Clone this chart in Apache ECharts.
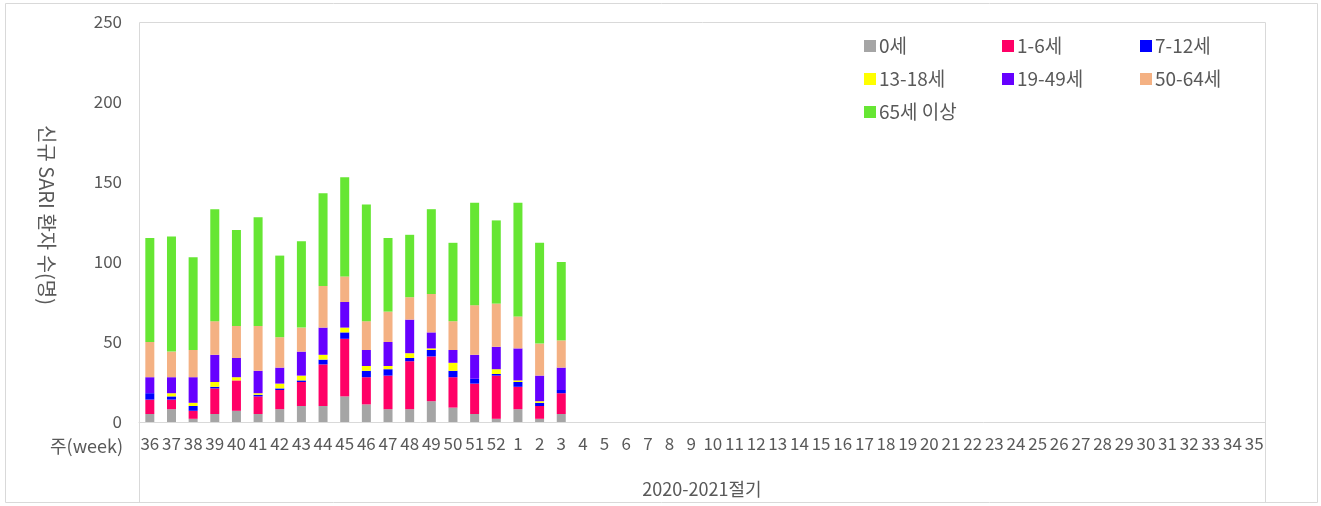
<!DOCTYPE html>
<html>
<head>
<meta charset="utf-8">
<script src="https://cdn.jsdelivr.net/npm/echarts@6/dist/echarts.min.js"></script>
<style>
html,body{margin:0;padding:0;background:#fff;}
#c{width:1321px;height:506px;}
</style>
</head>
<body>
<div id="c"></div>
<script>
const weeks = ['36','37','38','39','40','41','42','43','44','45','46','47','48','49','50','51','52',
  '1','2','3','4','5','6','7','8','9','10','11','12','13','14','15','16','17','18','19','20',
  '21','22','23','24','25','26','27','28','29','30','31','32','33','34','35'];
const seriesNames = ['0세','1-6세','7-12세','13-18세','19-49세','50-64세','65세 이상'];
const age0    = [5,8,2,5,7,5,8,10,10,16,11,8,8,13,9,5,2,8,2,5];
const age1_6  = [9,6,5,16,19,11,12,15,26,36,17,21,30,28,19,19,27,14,8,13];
const age7_12 = [4,2,3,1,0,1,1,1,3,4,4,4,2,4,4,3,1,3,2,2];
const age13_18= [0,2,2,3,2,1,3,3,3,3,3,2,3,1,5,0,3,1,1,0];
const age19_49= [10,10,16,17,12,14,10,15,17,16,10,15,21,10,8,15,14,20,16,14];
const age50_64= [22,16,17,21,20,28,19,15,26,16,18,19,14,24,18,31,27,20,20,17];
const age65   = [65,72,58,70,60,68,51,54,58,62,73,46,39,53,49,64,52,71,63,49];
const yTicks = [0,50,100,150,200,250];

const colors = ['#A5A5A5','#FF0066','#0000FF','#FFFF00','#6600FF','#F4B183','#66E633'];
const values = [age0,age1_6,age7_12,age13_18,age19_49,age50_64,age65];
const FONT = '"Noto Sans CJK KR","Noto Sans",sans-serif';
const TXT = '#595959';
const LINE = '#D9D9D9';

const chart = echarts.init(document.getElementById('c'), null, {renderer:'canvas'});

function legendCol(left, names){
  return {
    orient:'vertical', left:left, top:30, itemWidth:12, itemHeight:12, itemGap:11,
    icon:'rect', data:names,
    textStyle:{fontFamily:FONT, fontSize:19, color:TXT, lineHeight:22, padding:[0,0,0,-2]}
  };
}

chart.setOption({
  animation:false,
  color:colors,
  grid:{left:139, right:56, top:22, bottom:84, containLabel:false},
  legend:[
    legendCol(859,[seriesNames[0],seriesNames[3],seriesNames[6]]),
    legendCol(997,[seriesNames[1],seriesNames[4]]),
    legendCol(1135,[seriesNames[2],seriesNames[5]])
  ],
  xAxis:{
    type:'category', data:weeks,
    axisLine:{lineStyle:{color:LINE,width:1}},
    axisTick:{show:false},
    axisLabel:{interval:0, margin:13, fontFamily:FONT, fontSize:17, color:TXT},
    name:'2020-2021절기', nameLocation:'middle', nameGap:58,
    nameTextStyle:{fontFamily:FONT, fontSize:18, color:TXT}
  },
  yAxis:{
    type:'value', min:yTicks[0], max:yTicks[yTicks.length-1], interval:50,
    axisLine:{show:false}, axisTick:{show:false}, splitLine:{show:false},
    axisLabel:{margin:17, fontFamily:FONT, fontSize:17, color:TXT}
  },
  graphic:[
    {type:'rect', shape:{x:5.5,y:3.5,width:1312,height:499}, style:{fill:null, stroke:LINE, lineWidth:1}, silent:true},
    {type:'polyline', shape:{points:[[139.5,503],[139.5,22.5],[1265.5,22.5],[1265.5,503]]}, style:{fill:null, stroke:LINE, lineWidth:1}, silent:true},
    {type:'text', x:123, y:446, style:{text:'주(week)', fontFamily:FONT, fontSize:18, fill:TXT, textAlign:'right', textVerticalAlign:'middle'}},
    {type:'text', x:47, y:215, rotation:-Math.PI/2, style:{text:'신규 SARI 환자 수(명)', fontFamily:FONT, fontSize:20, fill:TXT, textAlign:'center', textVerticalAlign:'middle'}}
  ],
  series: seriesNames.map((n,i)=>({
    name:n, type:'bar', stack:'total', data:values[i], barWidth:9,
    itemStyle:{color:colors[i]}
  }))
});
</script>
</body>
</html>
